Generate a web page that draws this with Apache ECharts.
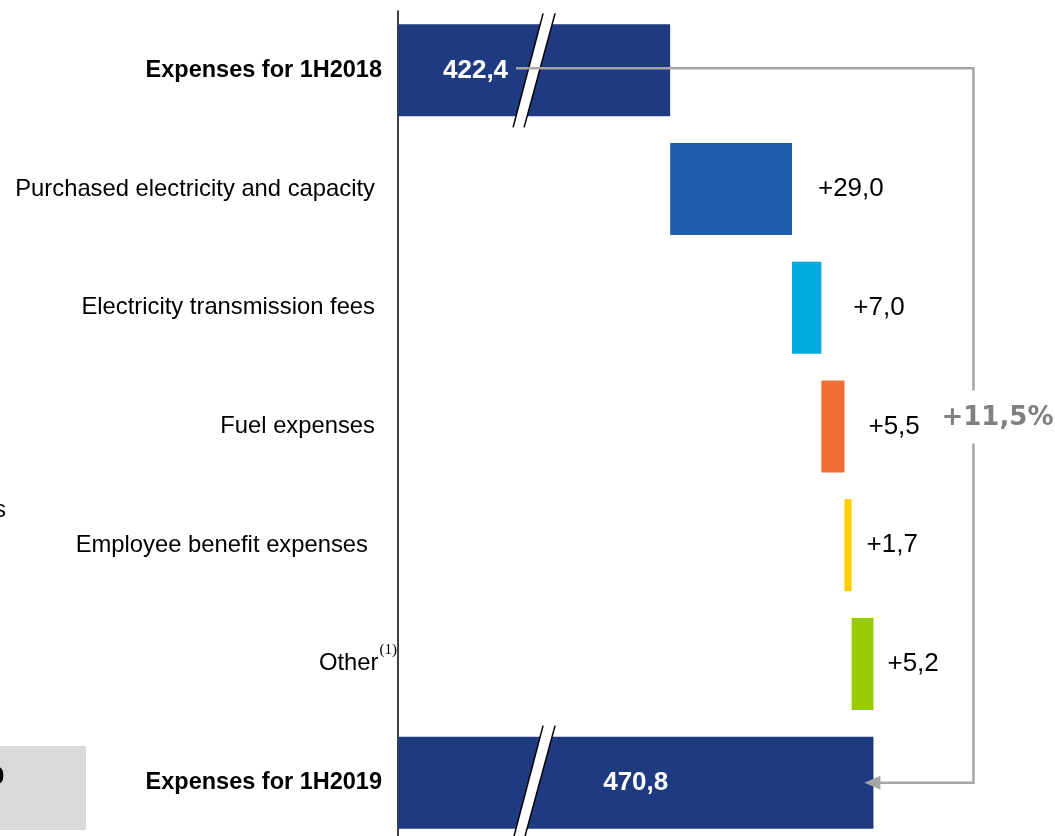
<!DOCTYPE html>
<html>
<head>
<meta charset="utf-8">
<style>
  html, body { margin: 0; padding: 0; background: #ffffff; }
  #chart { width: 1055px; height: 836px; }
</style>
<script src="https://cdn.jsdelivr.net/npm/echarts@6/dist/echarts.min.js"></script>
</head>
<body>
<div id="chart"></div>
<script>
// ---- data ----
const categories = [
  'Expenses for 1H2018',
  'Purchased electricity and capacity',
  'Electricity transmission fees',
  'Fuel expenses',
  'Employee benefit expenses',
  'Other',
  'Expenses for 1H2019'
];
const startTotal = 422.4;
const deltas = [29.0, 7.0, 5.5, 1.7, 5.2];
const endTotal = 470.8;
const growthLabel = '+11,5%';
const footnoteMark = '(1)';

// ---- styles ----
const barColors = ['#1e3a80', '#1f5ca9', '#00a9de', '#f26d36', '#ffcc00', '#99cc00', '#1e3a80'];
const deltaLabelGaps = [26, 32, 24, 15, 14];
const axisMin = 357.6;
const axisMax = 504.5;
const breakValue = 390.0;

// build waterfall base + visible values
const baseVals = [0];
const shownVals = [startTotal];
let run = startTotal;
deltas.forEach(d => { baseVals.push(run); shownVals.push(d); run += d; });
baseVals.push(0);
shownVals.push(endTotal);

const fmt = v => v.toFixed(1).replace('.', ',');

const valueData = shownVals.map((v, i) => {
  const isTotal = (i === 0 || i === shownVals.length - 1);
  const item = { value: v, itemStyle: { color: barColors[i] } };
  if (isTotal) {
    item.label = {
      show: true,
      position: i === 0 ? 'insideLeft' : 'inside',
      distance: i === 0 ? 45 : 5,
      color: '#ffffff',
      fontWeight: 'bold',
      fontSize: 26,
      fontFamily: '"Liberation Sans", Arial, sans-serif',
      formatter: fmt(v)
    };
  } else {
    item.label = {
      show: true,
      position: 'right',
      distance: deltaLabelGaps[i - 1],
      color: '#000000',
      fontSize: 26,
      fontFamily: '"Liberation Sans", Arial, sans-serif',
      formatter: '+' + fmt(v)
    };
  }
  return item;
});

const chart = echarts.init(document.getElementById('chart'), null, { renderer: 'canvas' });

const option = {
  animation: false,
  backgroundColor: '#ffffff',
  grid: { left: 398, right: 40, top: 11, height: 831, containLabel: false, outerBoundsMode: 'none' },
  xAxis: {
    type: 'value', min: axisMin, max: axisMax,
    show: false, splitLine: { show: false }
  },
  yAxis: {
    type: 'category', data: categories, inverse: true,
    axisLine: { show: true, lineStyle: { color: '#000000', width: 1.5 } },
    axisTick: { show: false },
    splitLine: { show: false },
    axisLabel: {
      margin: 1,
      formatter: function (value, idx) {
        if (idx === 0 || idx === categories.length - 1) return '{b|' + value + '}';
        if (idx === 5) return '{o|' + value + '}{sup|' + footnoteMark + '}';
        if (idx === 4) return '{e|' + value + '}';
        return '{n|' + value + '}';
      },
      rich: {
        b: { fontFamily: '"Liberation Sans", Arial, sans-serif', fontWeight: 'bold', fontSize: 23.5, color: '#000', padding: [0, 15, 0, 0] },
        n: { fontFamily: '"Liberation Sans", Arial, sans-serif', fontSize: 23.8, color: '#000', padding: [0, 22, 0, 0] },
        e: { fontFamily: '"Liberation Sans", Arial, sans-serif', fontSize: 23.8, color: '#000', padding: [0, 29, 0, 0] },
        o: { fontFamily: '"Liberation Sans", Arial, sans-serif', fontSize: 23.8, color: '#000', lineHeight: 42 },
        sup: { fontFamily: '"Liberation Serif", "DejaVu Serif", serif', fontSize: 15, color: '#000', verticalAlign: 'top', lineHeight: 15, padding: [0, 0, 0, 1] }
      }
    }
  },
  series: [
    {
      name: 'base', type: 'bar', stack: 'wf', silent: true,
      barCategoryGap: '22.5%',
      itemStyle: { color: 'rgba(0,0,0,0)' },
      data: baseVals
    },
    {
      name: 'value', type: 'bar', stack: 'wf',
      barCategoryGap: '22.5%',
      data: valueData
    },
    {
      name: 'breaks', type: 'custom', silent: true, z: 5,
      encode: { x: 0, y: 1 },
      data: [[breakValue, 0], [breakValue, categories.length - 1]],
      renderItem: function (params, api) {
        const c = api.coord([api.value(0), api.value(1)]);
        const band = api.size([0, 1])[1];
        const dy = band * 0.48;
        const cx = c[0], cy = c[1];
        return {
          type: 'group',
          children: [
            { type: 'polygon', shape: { points: [[cx - 21, cy + dy], [cx + 9, cy - dy], [cx + 21, cy - dy], [cx - 10, cy + dy]] }, style: { fill: '#ffffff' } },
            { type: 'line', shape: { x1: cx - 21, y1: cy + dy, x2: cx + 9, y2: cy - dy }, style: { stroke: '#000000', lineWidth: 1.5 } },
            { type: 'line', shape: { x1: cx - 10, y1: cy + dy, x2: cx + 21, y2: cy - dy }, style: { stroke: '#000000', lineWidth: 1.5 } }
          ]
        };
      }
    },
    {
      name: 'connector', type: 'custom', silent: true, z: 6,
      encode: { x: 0, y: 1 },
      data: [[endTotal, categories.length - 1]],
      renderItem: function (params, api) {
        const pStart = api.coord([axisMin, 0]);
        const pEnd = api.coord([endTotal, categories.length - 1]);
        const x0 = pStart[0] + 118;
        const y0 = pStart[1] - 2;
        const xv = pEnd[0] + 100;
        const y6 = pEnd[1];
        const tip = pEnd[0] - 9;
        const ym = (y0 + y6) / 2 - 7;
        const grey = '#a6a6a6';
        return {
          type: 'group',
          children: [
            { type: 'polyline', shape: { points: [[x0, y0], [xv, y0], [xv, y6], [tip + 15, y6]] }, style: { stroke: grey, lineWidth: 2.5, fill: null } },
            { type: 'polygon', shape: { points: [[tip, y6], [tip + 16, y6 - 7], [tip + 16, y6 + 7]] }, style: { fill: grey } },
            { type: 'rect', shape: { x: xv - 34, y: ym - 28, width: 120, height: 53 }, style: { fill: '#ffffff' } },
            { type: 'text', x: xv - 32, y: ym, style: { text: growthLabel, fill: '#808080', font: 'bold 26px "DejaVu Sans", Verdana, sans-serif', verticalAlign: 'middle', align: 'left' } }
          ]
        };
      }
    }
  ],
  graphic: [
    { type: 'rect', left: 0, top: 746, shape: { width: 86, height: 84 }, style: { fill: '#d9d9d9' }, silent: true },
    { type: 'text', x: -6, y: 498, style: { text: 's', fill: '#000', font: '24px "Liberation Sans", Arial, sans-serif' }, silent: true },
    { type: 'text', x: -9, y: 765, style: { text: '0', fill: '#000', font: 'bold 24px "Liberation Sans", Arial, sans-serif' }, silent: true }
  ]
};

chart.setOption(option);
</script>
</body>
</html>
